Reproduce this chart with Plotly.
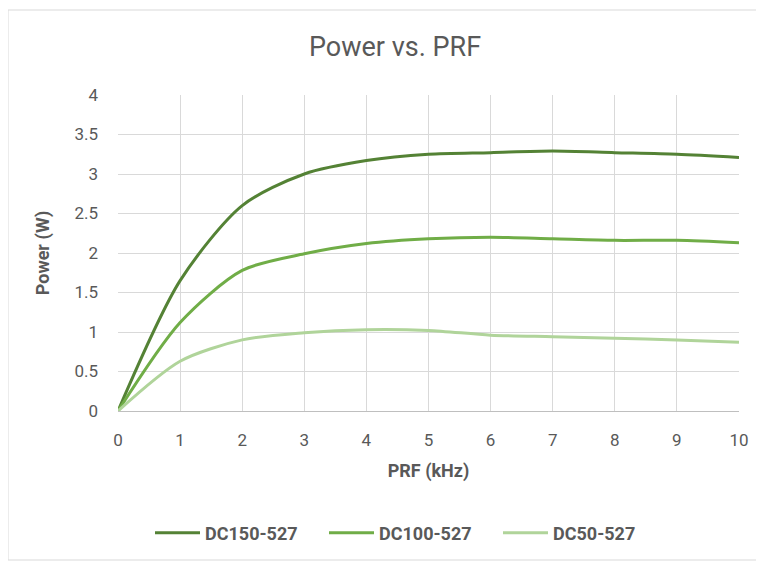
import plotly.graph_objects as go

prf_khz = [0, 1, 2, 3, 4, 5, 6, 7, 8, 9, 10]
dc150 = [0, 1.65, 2.6, 3.0, 3.17, 3.25, 3.27, 3.29, 3.27, 3.25, 3.21]
dc100 = [0, 1.12, 1.78, 1.99, 2.12, 2.18, 2.2, 2.18, 2.16, 2.16, 2.13]
dc50 = [0, 0.63, 0.9, 0.99, 1.03, 1.02, 0.96, 0.94, 0.92, 0.9, 0.87]
series_names = ["DC150-527", "DC100-527", "DC50-527"]
colors = ["#548235", "#70AD47", "#B0D49A"]

OFF = 8  # default page body margin
W, H = 764 - OFF, 561 - OFF
L, R, T, B = 118 - OFF, 739 - OFF, 95 - OFF, 411 - OFF
font = "Roboto, Liberation Sans, sans-serif"

fig = go.Figure()
for name, ys, c in zip(series_names, [dc150, dc100, dc50], colors):
    fig.add_trace(go.Scatter(x=prf_khz, y=ys, name=name, mode="lines",
                             line=dict(color=c, width=3, shape="spline", smoothing=0.8)))

def px_x(p):
    return (p - OFF - L) / (R - L)

def px_y(p):
    return (B - (p - OFF)) / (B - T)

fig.update_layout(
    width=W, height=H,
    margin=dict(l=L, r=W - R, t=T, b=H - B, autoexpand=False),
    paper_bgcolor="white", plot_bgcolor="white",
    font=dict(family=font, color="#595959", size=15),
    title=dict(text="Power vs. PRF", x=px_x(395), xref="paper", xanchor="center",
               y=1 - (47 - OFF) / H, yanchor="middle",
               font=dict(size=27, color="#595959", family=font)),
    xaxis=dict(range=[0, 10], dtick=1, tick0=0, showgrid=True, gridcolor="#D9D9D9",
               gridwidth=1, showline=True, linecolor="#BFBFBF", linewidth=1,
               zeroline=False, ticks="", ticklabelstandoff=14,
               tickfont=dict(size=17, color="#595959"),
               title=dict(text="<b>PRF (kHz)</b>", font=dict(size=18, color="#595959"), standoff=14)),
    yaxis=dict(range=[0, 4], dtick=0.5, tick0=0, showgrid=True, gridcolor="#D9D9D9",
               gridwidth=1, zeroline=False, showline=False, ticks="", ticklabelstandoff=19,
               tickfont=dict(size=17, color="#595959"),
               title=dict(text="<b>Power (W)</b>", font=dict(size=18, color="#595959"), standoff=20)),
    legend=dict(orientation="h", x=px_x(411), xanchor="center", y=px_y(533), yanchor="middle",
                font=dict(size=18, color="#595959", weight="bold"),
                entrywidth=114, entrywidthmode="pixels", itemwidth=45,
                bgcolor="rgba(0,0,0,0)"),
    showlegend=True,
)
fig.add_shape(type="rect", xref="paper", yref="paper",
              x0=px_x(8), x1=px_x(763), y0=px_y(560), y1=px_y(10),
              line=dict(color="#D9D9D9", width=1), layer="below")

fig.write_html("out.html")
